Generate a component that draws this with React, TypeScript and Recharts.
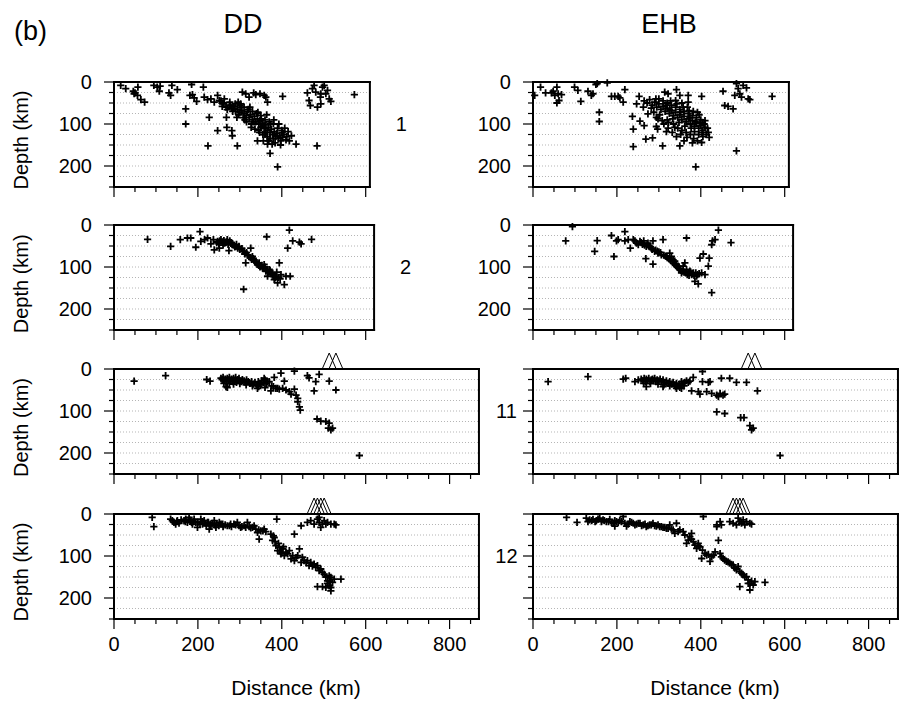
import React from "react";
import { ScatterChart, Scatter, XAxis, YAxis, CartesianGrid } from "recharts";

type Pt = [number, number]; // [distance km, depth km]

// Section 1
const ddSec1: Pt[] = [
  [16, 8], [28, 16], [46, 22], [50, 26], [48, 28], [57, 12], [56, 32], [64, 42], [73, 48], [95, 8],
  [103, 12], [110, 10], [108, 22], [131, 26], [135, 32], [138, 8], [151, 18], [185, 6], [213, 12],
  [181, 32], [187, 30], [191, 38], [197, 46], [171, 64], [171, 100], [227, 84], [224, 152], [247, 116],
  [269, 108], [281, 116], [282, 128], [294, 152],
  [215, 36], [223, 42], [231, 40], [239, 48], [247, 32], [251, 44], [259, 52], [267, 60], [270, 66],
  [268, 84], [278, 56], [286, 62], [293, 84], [296, 48], [302, 52], [306, 24], [314, 28], [322, 36],
  [333, 26], [338, 30], [348, 28], [358, 32], [362, 36], [366, 48], [402, 34],
  [255, 45], [262, 50], [275, 55], [280, 62], [285, 58], [290, 70], [295, 65], [300, 72], [305, 68],
  [310, 75], [315, 80], [318, 70], [322, 85], [325, 78], [330, 90], [335, 82], [338, 95], [342, 88],
  [345, 100], [348, 92], [352, 105], [355, 98], [358, 110], [362, 102], [365, 115], [368, 108],
  [372, 120], [375, 112], [378, 125], [382, 118], [385, 130], [388, 122], [392, 135], [395, 128],
  [398, 140], [402, 132], [405, 125], [410, 138], [300, 55], [310, 60], [320, 65], [330, 70],
  [340, 75], [350, 80], [360, 90], [370, 95], [380, 100], [390, 110], [400, 115], [312, 90],
  [328, 100], [345, 115], [355, 125], [365, 130], [372, 135],
  [258, 58], [263, 40], [276, 48], [283, 70], [289, 52], [297, 78], [303, 60], [308, 85], [316, 95],
  [324, 60], [327, 108], [333, 95], [336, 112], [343, 72], [347, 120], [351, 88], [356, 140],
  [361, 120], [364, 78], [369, 140], [373, 100], [377, 148], [381, 90], [384, 145], [389, 128],
  [393, 100], [397, 150], [401, 120], [407, 110], [412, 130], [415, 118], [380, 135], [360, 125],
  [350, 108],
  [342, 140], [366, 148], [372, 170], [390, 202], [423, 128], [434, 148], [418, 140],
  [461, 26], [465, 44], [468, 56], [473, 16], [477, 8], [481, 24], [485, 60], [492, 36], [493, 52],
  [497, 12], [501, 8], [505, 28], [509, 20], [513, 40], [517, 46], [493, 28], [484, 152], [573, 30],
];

const ehbSec1: Pt[] = [
  [4, 32], [18, 12], [30, 26], [44, 26], [48, 22], [52, 32], [57, 12], [60, 28], [62, 44], [68, 30],
  [57, 50], [99, 12], [107, 20], [114, 46], [131, 22], [139, 32], [143, 28], [150, 6], [153, 4],
  [177, 2], [158, 72], [158, 94], [187, 34], [195, 34], [203, 34], [207, 38], [219, 18], [215, 48],
  [237, 82], [239, 112], [239, 154], [247, 52], [253, 34], [255, 93], [263, 60], [265, 104],
  [269, 136], [274, 76], [285, 133], [294, 106], [294, 84], [309, 152], [314, 24], [322, 28],
  [342, 18], [350, 32], [370, 32], [370, 48], [350, 152], [388, 202], [402, 34], [404, 96],
  [418, 120], [420, 132], [402, 144], [453, 22], [457, 56], [465, 58], [477, 64], [481, 32],
  [485, 4], [489, 16], [493, 28], [497, 36], [501, 8], [509, 14], [513, 40], [517, 42], [485, 164],
  [570, 34],
  [265, 45], [272, 50], [278, 42], [284, 55], [290, 48], [295, 60], [300, 52], [305, 65], [310, 58],
  [315, 70], [320, 62], [325, 75], [330, 68], [335, 80], [340, 72], [345, 85], [350, 78], [355, 90],
  [360, 82], [365, 95], [370, 88], [375, 100], [380, 92], [385, 105], [390, 98], [395, 110],
  [400, 104], [405, 115], [410, 108], [300, 40], [310, 45], [320, 50], [330, 55], [340, 60],
  [350, 65], [360, 70], [370, 75], [380, 80], [390, 85], [400, 90], [320, 90], [335, 100],
  [345, 110], [355, 115], [365, 120], [375, 125], [385, 118], [395, 125], [405, 130], [340, 44],
  [355, 50], [368, 60], [382, 70], [396, 78], [410, 92], [288, 72], [298, 88], [312, 100],
  [322, 110], [332, 120],
  [282, 62], [293, 40], [302, 78], [308, 92], [317, 55], [323, 96], [328, 45], [333, 88], [338, 108],
  [343, 52], [348, 96], [352, 125], [358, 60], [362, 105], [367, 132], [372, 68], [377, 110],
  [383, 135], [387, 95], [392, 140], [398, 98], [403, 120], [408, 100], [413, 125], [416, 110],
  [318, 118], [342, 130], [360, 140], [380, 145], [297, 112], [326, 66], [352, 72], [374, 84],
  [392, 72],
];

// Section 2
const ddSec2: Pt[] = [
  [80, 34], [135, 51], [158, 35], [175, 31], [183, 31], [195, 53], [205, 16], [207, 39], [216, 35],
  [223, 31], [231, 45], [237, 35], [239, 59], [247, 39], [251, 55], [255, 35], [263, 43], [270, 35],
  [274, 61], [282, 47], [290, 51], [298, 51], [306, 63], [312, 69], [314, 90], [318, 71], [326, 55],
  [330, 75], [334, 83], [338, 86], [342, 94], [346, 90], [350, 98], [354, 102], [358, 94], [362, 110],
  [364, 28], [366, 122], [370, 106], [374, 114], [378, 118], [382, 130], [386, 122], [390, 138],
  [394, 90], [398, 118], [406, 142], [410, 122], [414, 55], [418, 12], [420, 122], [426, 38],
  [442, 41], [446, 45], [471, 34], [309, 153],
  [245, 42], [250, 45], [258, 40], [260, 48], [266, 42], [272, 46], [278, 44], [285, 48], [288, 52],
  [295, 55], [300, 58], [305, 56], [310, 62], [316, 66], [320, 72], [325, 78], [328, 82], [332, 80],
  [336, 88], [340, 90], [345, 96], [348, 100], [352, 96], [356, 104], [360, 100], [365, 108],
  [368, 112], [372, 108], [376, 116], [380, 120], [384, 126], [388, 112], [392, 125], [396, 128],
  [252, 38], [262, 37], [268, 40], [276, 38], [280, 42], [292, 46],
];

const ehbSec2: Pt[] = [
  [78, 38], [94, 4], [147, 63], [153, 37], [187, 25], [193, 75], [199, 38], [203, 35], [219, 16],
  [219, 38], [227, 35], [232, 55], [239, 35], [243, 38], [247, 43], [251, 47], [255, 39], [261, 46],
  [264, 38], [269, 80], [270, 51], [274, 43], [278, 51], [282, 55], [286, 38], [286, 93], [290, 63],
  [298, 67], [306, 71], [310, 35], [318, 75], [326, 67], [330, 75], [334, 83], [338, 86], [342, 93],
  [346, 98], [350, 106], [354, 114], [358, 98], [362, 90], [366, 31], [366, 106], [370, 114],
  [374, 110], [378, 118], [382, 114], [386, 134], [390, 122], [394, 140], [398, 79], [402, 114],
  [406, 69], [410, 118], [418, 98], [420, 79], [426, 47], [428, 38], [434, 35], [442, 12],
  [426, 161], [472, 42],
  [258, 42], [262, 44], [266, 48], [272, 47], [276, 50], [280, 52], [284, 58], [292, 60], [296, 62],
  [300, 64], [304, 66], [312, 72], [316, 74], [320, 78], [324, 80], [328, 84], [332, 88], [336, 92],
  [340, 96], [344, 100], [348, 104], [352, 108], [356, 110], [360, 112], [364, 114], [368, 118],
  [372, 120], [376, 112], [380, 116], [384, 120], [388, 114], [392, 118], [396, 116],
];

// Section 11
const ddSec11: Pt[] = [
  [48, 29], [123, 16], [221, 25], [229, 29], [267, 42], [270, 44], [342, 46], [350, 38], [358, 22],
  [366, 30], [374, 52], [382, 20], [386, 46], [398, 10], [402, 46], [406, 29], [410, 50], [418, 54],
  [422, 60], [430, 48], [434, 62], [438, 70], [438, 78], [442, 90], [444, 98], [430, 5], [461, 16],
  [465, 21], [481, 30], [477, 52], [489, 13], [513, 29], [529, 50], [484, 119], [493, 124],
  [505, 125], [513, 129], [511, 141], [517, 145], [521, 141], [585, 206],
  [255, 22], [258, 25], [260, 20], [262, 28], [265, 24], [268, 30], [270, 22], [272, 26], [275, 20],
  [278, 28], [280, 24], [283, 30], [285, 22], [288, 27], [290, 20], [292, 32], [295, 25], [298, 22],
  [300, 28], [303, 30], [306, 25], [310, 28], [313, 32], [316, 26], [320, 30], [324, 34], [328, 30],
  [332, 36], [336, 32], [340, 38], [344, 30], [348, 34], [352, 28], [356, 32], [360, 26], [364, 34],
  [370, 30], [376, 40], [380, 42], [262, 34], [275, 35], [285, 36], [300, 35], [315, 38], [330, 40],
  [345, 42], [360, 44], [390, 46], [394, 48],
];

const ehbSec11: Pt[] = [
  [36, 30], [131, 18], [215, 24], [221, 22], [243, 30], [251, 26], [270, 42], [310, 42], [342, 46],
  [354, 46], [362, 32], [374, 29], [378, 52], [382, 20], [394, 54], [398, 60], [404, 6], [404, 30],
  [414, 54], [418, 32], [422, 30], [426, 58], [438, 62], [442, 66], [446, 58], [453, 62], [457, 60],
  [438, 102], [457, 106], [449, 22], [469, 22], [485, 32], [509, 32], [535, 52], [495, 116],
  [503, 116], [517, 135], [521, 145], [525, 141], [589, 206],
  [258, 24], [262, 28], [265, 22], [268, 30], [270, 24], [273, 27], [276, 22], [279, 30], [282, 26],
  [285, 24], [288, 28], [290, 22], [293, 30], [296, 26], [300, 28], [303, 24], [306, 30], [310, 26],
  [314, 32], [318, 28], [322, 34], [326, 30], [330, 36], [334, 32], [338, 38], [342, 34], [346, 40],
  [350, 36], [354, 30], [358, 34], [366, 28], [370, 32], [264, 34], [280, 35], [298, 36], [312, 38],
  [326, 40], [340, 42], [350, 44], [360, 40],
];

// Section 12
const ddSec12: Pt[] = [
  [91, 8], [95, 30], [135, 12], [139, 16], [143, 20], [147, 24], [151, 16], [167, 16], [171, 12],
  [175, 20], [179, 8], [183, 16], [187, 24], [191, 12], [195, 20], [199, 32], [207, 12], [211, 24],
  [215, 16], [223, 20], [227, 36], [231, 28], [239, 16], [243, 32], [251, 20], [259, 24], [270, 28],
  [278, 24], [286, 24], [294, 20], [302, 32], [314, 32], [318, 20], [326, 33], [334, 28], [338, 36],
  [342, 44], [346, 60], [350, 40], [358, 36], [374, 48], [378, 63], [382, 56], [386, 75], [390, 87],
  [394, 79], [398, 95], [402, 83], [406, 99], [410, 91], [418, 87], [422, 107], [426, 99], [430, 48],
  [430, 111], [438, 99], [442, 83], [446, 115], [446, 28], [449, 103], [453, 111], [461, 111],
  [465, 123], [469, 115], [477, 119], [481, 127], [485, 123], [489, 135], [493, 131], [497, 139],
  [501, 143], [509, 159], [513, 147], [517, 151], [521, 163], [525, 155], [541, 155], [517, 175],
  [517, 183], [485, 173], [497, 173], [513, 171], [388, 12],
  [461, 20], [469, 16], [477, 24], [485, 12], [489, 20], [493, 32], [497, 24], [501, 16], [505, 24],
  [509, 20], [517, 24], [525, 24], [529, 26], [489, 8],
  [150, 18], [155, 22], [160, 14], [170, 18], [180, 14], [185, 20], [190, 18], [200, 20], [205, 24],
  [210, 18], [218, 22], [220, 28], [225, 20], [230, 24], [235, 22], [240, 26], [245, 24], [250, 28],
  [255, 24], [260, 30], [265, 26], [275, 28], [280, 30], [290, 26], [298, 28], [305, 30], [310, 28],
  [322, 30], [330, 32], [345, 38], [355, 40], [362, 42], [380, 52], [384, 66], [392, 70], [396, 88],
  [400, 92], [404, 78], [414, 95], [434, 104], [458, 116], [473, 124], [505, 150], [509, 165],
  [513, 160], [505, 175],
];

const ehbSec12: Pt[] = [
  [80, 8], [105, 20], [127, 10], [131, 18], [135, 14], [143, 13], [151, 16], [159, 10], [167, 14],
  [175, 18], [183, 13], [191, 22], [195, 29], [199, 18], [207, 16], [215, 6], [219, 22], [223, 29],
  [231, 18], [239, 22], [247, 24], [255, 22], [263, 26], [270, 30], [278, 26], [286, 22], [294, 29],
  [302, 30], [310, 32], [318, 34], [326, 26], [334, 38], [338, 46], [342, 22], [346, 42], [350, 38],
  [358, 42], [362, 50], [366, 70], [370, 62], [374, 54], [378, 46], [382, 66], [386, 74], [390, 82],
  [394, 70], [398, 78], [402, 106], [404, 86], [410, 94], [414, 98], [422, 113], [426, 102],
  [430, 98], [434, 90], [438, 30], [442, 63], [446, 94], [449, 102], [453, 106], [461, 113],
  [469, 117], [477, 121], [481, 129], [485, 133], [489, 125], [493, 137], [497, 141], [501, 145],
  [509, 149], [513, 157], [517, 165], [525, 169], [529, 161], [553, 163], [493, 173], [517, 181],
  [406, 6],
  [438, 26], [446, 18], [449, 26], [469, 18], [477, 22], [485, 26], [489, 10], [493, 18], [497, 22],
  [501, 14], [505, 26], [509, 18], [517, 22], [521, 24],
  [140, 16], [148, 18], [155, 12], [163, 18], [170, 16], [180, 18], [187, 20], [195, 16], [203, 20],
  [211, 18], [227, 24], [235, 20], [243, 26], [251, 22], [259, 28], [267, 24], [274, 28], [282, 26],
  [290, 28], [298, 26], [306, 30], [314, 32], [322, 34], [330, 36], [378, 60], [394, 76], [418, 96],
  [457, 110], [465, 114], [473, 120], [505, 150], [513, 165], [521, 160],
];

// volcano positions (distance km) drawn above the sections
const volcanoes11 = [513, 529];
const volcanoes12 = [477, 485, 493, 501];

const sectionNames = ["1", "2", "11", "12"];
const sectionLength = [610, 620, 870, 870];
const columnTitles = ["DD", "EHB"];
const depthTicks = [0, 25, 50, 75, 100, 125, 150, 175, 200, 225, 250];
const distTicks = [0, 50, 100, 150, 200, 250, 300, 350, 400, 450, 500, 550, 600, 650, 700, 750, 800, 850];

const FONT = '"Liberation Sans", Arial, Helvetica, sans-serif';
const KM = 0.4195;
const PLOT_H = 105;
const colLeft = [113.5, 533.3];
const rowTop = [81.5, 225.3, 369, 513.5];
const frame = { stroke: "#000", strokeWidth: 2, strokeLinecap: "square" as const };

const toXY = (pts: Pt[]) => pts.map(([x, y]) => ({ x, y }));

const Plus = (p: any) => (
  <path d={`M${p.cx - 3.6},${p.cy}h7.2M${p.cx},${p.cy - 3.6}v7.2`} stroke="#000" strokeWidth={1.8} fill="none" />
);

const Volcano = (p: any) => (
  <path d={`M${p.cx - 7},${p.cy} L${p.cx},${p.cy - 16} L${p.cx + 7},${p.cy}`} stroke="#000" strokeWidth={1} fill="none" />
);

function Panel({ pts, volc, xMax, left, top, showX, showY }: {
  pts: Pt[]; volc?: number[]; xMax: number; left: number; top: number; showX: boolean; showY: boolean;
}) {
  const plotW = xMax * KM;
  const wl = 80, wr = 16, ht = 16, hb = showX ? 50 : 16;
  const ticks = distTicks.filter((t) => t <= xMax);

  const topTick = (p: any) => {
    const len = p.payload.value % 200 === 0 ? 10 : 5;
    return <line x1={p.x} x2={p.x} y1={p.y} y2={p.y - len} stroke="#000" strokeWidth={1.2} />;
  };
  const bottomTick = (p: any) => {
    const major = p.payload.value % 200 === 0;
    return (
      <g>
        <line x1={p.x} x2={p.x} y1={p.y} y2={p.y + (major ? 10 : 5)} stroke="#000" strokeWidth={1.2} />
        {showX && major && (
          <text x={p.x} y={p.y + 32} textAnchor="middle" fontSize={20} fontFamily={FONT} fill="#000">
            {p.payload.value}
          </text>
        )}
      </g>
    );
  };
  const leftTick = (p: any) => {
    const major = p.payload.value % 100 === 0;
    return (
      <g>
        <line x1={p.x} x2={p.x - (major ? 10 : 5)} y1={p.y} y2={p.y} stroke="#000" strokeWidth={1.2} />
        {showY && major && (
          <text x={p.x - 22} y={p.y + 7} textAnchor="end" fontSize={20} fontFamily={FONT} fill="#000">
            {p.payload.value}
          </text>
        )}
      </g>
    );
  };
  const rightTick = (p: any) => {
    const len = p.payload.value % 100 === 0 ? 10 : 5;
    return <line x1={p.x} x2={p.x + len} y1={p.y} y2={p.y} stroke="#000" strokeWidth={1.2} />;
  };

  return (
    <div style={{ position: "absolute", left: left - wl, top: top - ht }}>
      <ScatterChart width={wl + plotW + wr} height={ht + PLOT_H + hb} margin={{ top: 0, right: 0, bottom: 0, left: 0 }}>
        <CartesianGrid xAxisId="b" yAxisId="l" vertical={false} stroke="#b4b4b4" strokeDasharray="1 2" />
        <XAxis xAxisId="b" dataKey="x" type="number" domain={[0, xMax]} ticks={ticks} interval={0}
          orientation="bottom" height={hb} tickSize={0} tickMargin={0} axisLine={frame} tick={bottomTick} />
        <XAxis xAxisId="t" dataKey="x" type="number" domain={[0, xMax]} ticks={ticks} interval={0}
          orientation="top" height={ht} tickSize={0} tickMargin={0} axisLine={frame} tick={topTick} />
        <YAxis yAxisId="l" dataKey="y" type="number" domain={[0, 250]} reversed ticks={depthTicks} interval={0}
          orientation="left" width={wl} tickSize={0} tickMargin={0} axisLine={frame} tick={leftTick} />
        <YAxis yAxisId="r" dataKey="y" type="number" domain={[0, 250]} reversed ticks={depthTicks} interval={0}
          orientation="right" width={wr} tickSize={0} tickMargin={0} axisLine={frame} tick={rightTick} />
        <Scatter xAxisId="b" yAxisId="l" data={toXY(pts)} shape={Plus} isAnimationActive={false} />
        {volc && (
          <Scatter xAxisId="b" yAxisId="l" data={volc.map((x) => ({ x, y: 0 }))} shape={Volcano} isAnimationActive={false} />
        )}
      </ScatterChart>
    </div>
  );
}

export default function App() {
  const rows: { dd: Pt[]; ehb: Pt[]; volc?: number[] }[] = [
    { dd: ddSec1, ehb: ehbSec1 },
    { dd: ddSec2, ehb: ehbSec2 },
    { dd: ddSec11, ehb: ehbSec11, volc: volcanoes11 },
    { dd: ddSec12, ehb: ehbSec12, volc: volcanoes12 },
  ];
  return (
    <div style={{ position: "absolute", left: 0, top: 0, width: 900, height: 702, background: "#fff", overflow: "hidden" }}>
      {rows.map((r, i) => (
        <React.Fragment key={i}>
          <Panel pts={r.dd} volc={r.volc} xMax={sectionLength[i]} left={colLeft[0]} top={rowTop[i]}
            showX={i === 3} showY={true} />
          <Panel pts={r.ehb} volc={r.volc} xMax={sectionLength[i]} left={colLeft[1]} top={rowTop[i]}
            showX={i === 3} showY={i < 2} />
        </React.Fragment>
      ))}
      <svg width={900} height={702} style={{ position: "absolute", left: 0, top: 0, pointerEvents: "none" }}
        fontFamily={FONT} fill="#000">
        <text x={14} y={40} fontSize={27}>(b)</text>
        <text x={243} y={33} fontSize={27} textAnchor="middle">{columnTitles[0]}</text>
        <text x={669} y={33} fontSize={27} textAnchor="middle">{columnTitles[1]}</text>
        {rowTop.map((t, i) => (
          <React.Fragment key={i}>
            <text transform={`translate(28,${t + PLOT_H / 2 + 6}) rotate(-90)`} fontSize={20} textAnchor="middle">
              Depth (km)
            </text>
            <text x={colLeft[0] + sectionLength[i] * KM + (i < 2 ? 32 : 28)} y={t + 42 + 7} fontSize={20}
              textAnchor="middle">
              {sectionNames[i]}
            </text>
          </React.Fragment>
        ))}
        <text x={296} y={695} fontSize={21} textAnchor="middle">Distance (km)</text>
        <text x={715} y={695} fontSize={21} textAnchor="middle">Distance (km)</text>
      </svg>
    </div>
  );
}
